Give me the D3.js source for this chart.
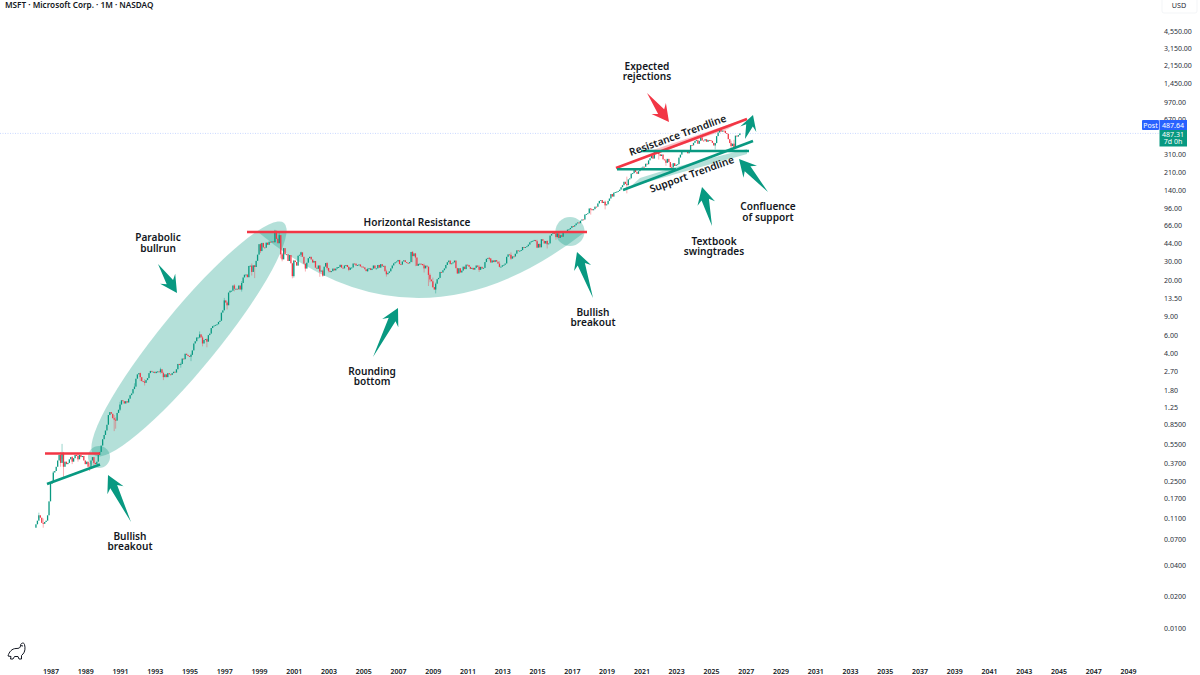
<!DOCTYPE html>
<html><head><meta charset="utf-8">
<script src="https://cdn.jsdelivr.net/npm/d3@7"></script>
<style>html,body{margin:0;padding:0;background:#fff;overflow:hidden}svg{display:block}text{font-family:"Noto Sans",sans-serif}</style>
</head><body><svg id="c" width="1200" height="675"></svg>
<script>
// Monthly closes, one row per year (first row starts March 1986)
const closes1986 = [.097,.105,.118,.112,.10,.098,.102,.105,.118,.16];
const closes1987 = [.235,.25,.30,.31,.34,.39,.44,.37,.46,.34,.38,.36];
const closes1988 = [.37,.40,.42,.38,.41,.44,.43,.40,.44,.42,.43,.39];
const closes1989 = [.36,.38,.34,.33,.39,.42,.37,.36,.38,.44,.47,.54];
const closes1990 = [.62,.68,.75,.85,1.05,1.12,1.08,.98,.95,.93,1.10,1.18];
const closes1991 = [1.32,1.45,1.42,1.35,1.42,1.38,1.50,1.62,1.68,1.85,1.95,2.32];
const closes1992 = [2.55,2.62,2.40,2.20,2.18,2.12,2.25,2.35,2.62,2.75,2.70,2.70];
const closes1993 = [2.62,2.70,2.72,2.68,2.85,2.62,2.40,2.55,2.40,2.62,2.55,2.52];
const closes1994 = [2.62,2.70,2.65,2.85,3.20,3.15,3.20,3.60,3.55,4.00,3.90,3.80];
const closes1995 = [3.75,3.90,4.30,5.00,5.25,5.70,5.70,6.10,5.70,5.00,5.40,5.50];
const closes1996 = [5.20,6.00,6.20,7.00,7.30,7.40,7.50,7.60,8.00,8.20,9.80,10.3];
const closes1997 = [12.8,12.2,11.5,15.2,15.8,15.8,17.7,16.5,16.5,16.3,17.7,16.2];
const closes1998 = [18.7,21.1,22.4,22.5,21.2,27.1,27.3,23.8,27.5,26.5,30.3,34.7];
const closes1999 = [43.6,37.5,44.8,40.6,40.3,45.1,43.0,46.0,45.3,46.3,45.6,58.4];
const closes2000 = [48.9,44.7,53.1,34.9,31.3,40.0,34.9,35.0,30.2,34.4,28.7,21.7];
const closes2001 = [30.5,29.5,27.3,33.9,34.6,36.5,33.1,28.5,25.6,29.1,32.1,33.1];
const closes2002 = [31.2,29.2,30.2,26.1,25.5,27.4,24.0,24.5,21.9,26.7,28.9,25.9];
const closes2003 = [24.4,23.7,24.2,25.6,24.6,25.6,26.4,26.5,27.8,26.1,25.7,27.4];
const closes2004 = [27.7,26.5,24.9,26.1,26.2,28.6,28.5,27.3,27.7,28.0,26.8,26.7];
const closes2005 = [26.3,25.2,24.2,25.3,25.8,24.8,25.6,27.4,25.7,25.7,27.7,26.1];
const closes2006 = [28.2,26.9,27.2,24.1,22.6,23.3,24.1,25.7,27.4,28.7,29.4,29.9];
const closes2007 = [30.9,28.2,27.9,29.9,30.7,29.5,29.0,28.7,29.5,36.8,33.6,35.6];
const closes2008 = [32.6,27.2,28.4,28.5,28.3,27.5,25.7,27.3,26.7,22.3,20.2,19.4];
const closes2009 = [17.1,16.2,18.4,20.3,20.9,23.8,23.5,24.7,25.7,27.7,29.4,30.5];
const closes2010 = [28.2,28.7,29.3,30.5,25.8,23.0,25.8,23.5,24.5,26.7,25.3,27.9];
const closes2011 = [27.7,26.6,25.4,26.0,25.0,26.0,27.4,26.6,24.9,26.6,25.6,26.0];
const closes2012 = [29.5,31.7,32.3,32.0,29.2,30.6,29.5,30.8,29.8,28.5,26.6,26.7];
const closes2013 = [27.5,27.8,28.6,33.1,34.9,34.5,31.8,33.4,33.3,35.4,38.1,37.4];
const closes2014 = [37.8,38.3,41.0,40.4,40.9,41.7,43.2,45.4,46.4,46.9,47.8,46.5];
const closes2015 = [40.4,43.9,40.7,48.6,46.9,44.2,46.7,43.5,44.3,52.6,54.4,55.5];
const closes2016 = [55.1,50.9,55.2,49.9,53.0,51.2,56.7,57.5,57.6,59.9,60.3,62.1];
const closes2017 = [64.7,64.0,65.9,68.5,70.0,68.9,72.7,74.8,74.5,83.2,84.2,85.5];
const closes2018 = [95.0,93.8,91.3,93.5,98.8,98.6,106,112,114,107,110,101.6];
const closes2019 = [104,112,118,130,123,134,136,137,139,143,151,157.7];
const closes2020 = [170,162,157.7,179,183,203,205,225,210,202,214,222];
const closes2021 = [231,236,235.8,252,249,271,284,301,282,331,330,336];
const closes2022 = [310,298,308,277,271,257,280,261,233,232,255,240];
const closes2023 = [247,249,288,307,328,340,335,328,316,338,378,376];
const closes2024 = [397,413,421,389,415,447,418,417,430,406,423,421];
const closes2025 = [415,397,375,395,460,497,533,507,518,517,492,483];
const closes2026 = [430,395,370,390,355,465,455,470,487.31];
const closeRows = [closes1986,closes1987,closes1988,closes1989,closes1990,closes1991,closes1992,closes1993,closes1994,closes1995,closes1996,closes1997,closes1998,closes1999,closes2000,closes2001,closes2002,closes2003,closes2004,closes2005,closes2006,closes2007,closes2008,closes2009,closes2010,closes2011,closes2012,closes2013,closes2014,closes2015,closes2016,closes2017,closes2018,closes2019,closes2020,closes2021,closes2022,closes2023,closes2024,closes2025,closes2026];

// Visible wick extremes as [year, month(1-12), high, low]
const wicks = [[1986,5,.125,.11],[1986,8,.11,.09],[1987,3,.31,.24],[1987,8,.47,.34],[1987,9,.56,.40],[1987,10,.47,.27],[1988,4,.43,.36],[1988,8,.45,.38],[1989,4,.37,.31],[1989,7,.39,.34],[1990,9,1.05,.74],[1990,10,1.0,.78],[1991,1,1.4,1.15],[1991,11,2.1,1.85],[1992,3,2.65,2.2],[1992,6,2.3,2.0],[1993,5,2.95,2.6],[1993,7,2.7,2.25],[1994,7,3.3,2.95],[1995,2,4.0,3.4],[1995,8,6.5,5.6],[1995,10,5.9,4.7],[1996,1,5.6,4.6],[1997,1,13.5,10.4],[1997,3,12.5,10.5],[1997,8,18.2,15.6],[1998,1,19.5,15.5],[1998,8,28.6,22],[1998,10,27.5,20.8],[1999,2,44.5,36],[1999,12,59.6,45],[2000,2,50,44],[2000,3,57,44],[2000,4,53,32],[2000,5,36,30],[2000,12,29,20.7],[2001,1,31,21],[2001,6,37,33],[2001,9,28,24],[2002,7,27.5,21.4],[2002,9,25,21.4],[2002,12,29.5,25],[2003,1,26,23.6],[2004,3,27,24.2],[2005,4,26,23.8],[2006,5,25,21.5],[2007,11,37.5,29.4],[2008,1,36,27],[2008,7,28.5,23.5],[2008,10,26.5,17.5],[2008,11,23,19],[2009,3,18.9,14.9],[2009,1,21,16.8],[2010,6,26,22.9],[2011,9,27.5,23.8],[2012,4,33,30.5],[2012,11,30,26.3],[2013,7,36.4,31],[2015,8,47.5,39.7],[2015,1,48,40],[2016,2,56,48],[2018,2,96,83],[2018,12,113,93],[2020,3,190,132],[2021,9,305,280],[2022,1,337,276],[2022,6,280,241],[2022,10,250,213],[2025,4,396,344],[2026,5,425,340],[2026,3,415,345]];

// Axis tick labels
const yearTicks = d3.range(1987,2050,2);
const priceTicks = [4550,3150,2150,1450,970,670,310,210,140,96,66,44,30,20,13.5,9,6,4,2.7,1.8,1.25,.85,.55,.37,.25,.17,.11,.07,.04,.02,.01];

const UP="#089981", DN="#f23645", INK="#131722", TEAL="#089981";
const svg=d3.select("#c");
const x=d3.scaleUtc().domain([Date.UTC(1987,0,1),Date.UTC(2049,0,1)]).range([50.5,1128]);
const y=d3.scaleLog().domain([.01,4550]).range([628.5,31]);

// build candles
const closes=closeRows.flat();
const candles=closes.map((c,i)=>{const d=new Date(Date.UTC(1986,2+i,1));return{d,c,o:i?closes[i-1]:.09}});
const wickMap=new Map(wicks.map(w=>[w[0]*100+w[1],w]));

// soft shapes
const soft=svg.append("g").attr("fill",TEAL).attr("fill-opacity",.3);
soft.append("ellipse").attr("cx",189).attr("cy",339).attr("rx",150).attr("ry",29).attr("transform","rotate(-50.7 189 339)");
soft.append("circle").attr("cx",99).attr("cy",457).attr("r",11);
soft.append("path").attr("d","M258,232 Q415,364 585,232 Z");
soft.append("circle").attr("cx",570).attr("cy",231.5).attr("r",14.5);
svg.append("path").attr("d","M630,187 L640,178 L672,168 L747,149 L747,154 L733,158 L690,170 Z").attr("fill",TEAL).attr("fill-opacity",.3);
svg.append("path").attr("d","M650,151 L745,119 L728,129 L658,153 Z").attr("fill",DN).attr("fill-opacity",.3);

// last price line
svg.append("line").attr("x1",0).attr("x2",1160).attr("y1",y(487.64)).attr("y2",y(487.64)).attr("stroke","#2962ff").attr("stroke-opacity",.35).attr("stroke-width",.7).attr("stroke-dasharray","1 1.5");

// candles
const cg=svg.append("g");
cg.selectAll("line").data(candles.filter(k=>wickMap.has(k.d.getUTCFullYear()*100+k.d.getUTCMonth()+1))).join("line")
 .attr("x1",k=>x(k.d)).attr("x2",k=>x(k.d))
 .attr("y1",k=>y(wickMap.get(k.d.getUTCFullYear()*100+k.d.getUTCMonth()+1)[2]))
 .attr("y2",k=>y(wickMap.get(k.d.getUTCFullYear()*100+k.d.getUTCMonth()+1)[3]))
 .attr("stroke",k=>k.c>=k.o?UP:DN).attr("stroke-opacity",.4).attr("stroke-width",1);
cg.selectAll("rect").data(candles).join("rect")
 .attr("x",k=>x(k.d)-.65).attr("width",1.3)
 .attr("y",k=>Math.min(y(k.o),y(k.c))).attr("height",k=>Math.max(.9,Math.abs(y(k.o)-y(k.c))))
 .attr("fill",k=>k.c>=k.o?UP:DN);

// trend lines
const seg=(a,b,c,d,col,w=2.6)=>svg.append("line").attr("x1",a).attr("y1",b).attr("x2",c).attr("y2",d).attr("stroke",col).attr("stroke-width",w);
seg(45,453.5,100,453.5,DN);
seg(47,484,100,464.5,UP);
seg(247,232,587,232,DN);
seg(616,168,747,119,DN);
seg(617,169.3,676,169.3,UP);
seg(641,151,749,151,UP);
seg(623,190,753,141,UP);

// block arrows: tail point -> tip
function arrow(tx,ty,hx,hy,col,hl=17,hw=9,nw=3.8){
  const dx=hx-tx,dy=hy-ty,L=Math.hypot(dx,dy),ux=dx/L,uy=dy/L,nx=-uy,ny=ux;
  const bx=hx-ux*hl,by=hy-uy*hl;
  const nbx=hx-ux*(hl-4),nby=hy-uy*(hl-4);
  const p=[[tx,ty],[nbx+nx*nw,nby+ny*nw],[bx+nx*hw,by+ny*hw],[hx,hy],[bx-nx*hw,by-ny*hw],[nbx-nx*nw,nby-ny*nw]];
  svg.append("path").attr("d","M"+p.map(q=>q.join(",")).join("L")+"Z").attr("fill",col);
}
arrow(131,522,108,475,UP);
arrow(158,264,177,293,UP);
arrow(373,357,398,308,UP);
arrow(593,298,577,252,UP);
arrow(647,93,669,122,DN);
arrow(745,139,753,115,UP,15,8.5,3.5);
arrow(712,226,702,187,UP);
arrow(768,192,739,159,UP);

// annotation text
function note(lines,cx,cy){lines.forEach((t,i)=>svg.append("text").attr("x",cx).attr("y",cy+i*10.6).attr("text-anchor","middle").attr("dominant-baseline","middle").attr("font-size",10.1).attr("font-weight",600).attr("fill",INK).text(t));}
note(["Expected","rejections"],647,67);
note(["Parabolic","bullrun"],158,238.5);
note(["Horizontal Resistance"],417,223);
note(["Rounding","bottom"],372,372);
note(["Bullish","breakout"],593,313);
note(["Bullish","breakout"],130,537);
note(["Confluence","of support"],768,207.5);
note(["Textbook","swingtrades"],714,242);
svg.append("text").attr("transform","translate(678,136) rotate(-20)").attr("text-anchor","middle").attr("dominant-baseline","middle").attr("font-size",10.2).attr("font-weight",600).attr("fill",INK).text("Resistance Trendline");
svg.append("text").attr("transform","translate(692,175) rotate(-20)").attr("text-anchor","middle").attr("dominant-baseline","middle").attr("font-size",10.2).attr("font-weight",600).attr("fill",INK).text("Support Trendline");

// header
svg.append("text").attr("x",5).attr("y",7.5).attr("font-size",8.2).attr("font-weight",600).attr("fill",INK).text("MSFT · Microsoft Corp. · 1M · NASDAQ");

// axes
const fmtP=v=>v>=1?d3.format(",.2f")(v):v.toFixed(4);
const yA=d3.axisRight(y).tickValues(priceTicks).tickFormat(fmtP).tickSize(0).tickPadding(0);
const yg=svg.append("g").attr("transform","translate(1164,0)").call(yA);
yg.select(".domain").remove();
yg.selectAll("text").attr("font-size",7).attr("fill","#2a2e39").style("font-family","'Noto Sans',sans-serif");
const xA=d3.axisBottom(x).tickValues(yearTicks.map(v=>new Date(Date.UTC(v,0,1)))).tickFormat(d3.utcFormat("%Y")).tickSize(0).tickPadding(0);
const xg=svg.append("g").attr("transform","translate(0,669)").call(xA);
xg.select(".domain").remove();
xg.selectAll("text").attr("font-size",7).attr("font-weight",600).attr("fill","#131722").style("font-family","'Noto Sans',sans-serif");

// USD box and price tags
svg.append("rect").attr("x",1162).attr("y",-3).attr("width",35).attr("height",16).attr("rx",2).attr("fill","#fff").attr("stroke","#eef0f3").attr("stroke-width",.7);
svg.append("text").attr("x",1179).attr("y",7.5).attr("text-anchor","middle").attr("font-size",7.2).attr("fill","#2a2e39").text("USD");
svg.append("rect").attr("x",1142).attr("y",120).attr("width",17).attr("height",10).attr("rx",1).attr("fill","#2962ff");
svg.append("rect").attr("x",1159.5).attr("y",120).attr("width",27.5).attr("height",10).attr("fill","#2962ff");
svg.append("rect").attr("x",1159.5).attr("y",130).attr("width",27.5).attr("height",16.5).attr("fill",UP);
const tag=(t,a,b)=>svg.append("text").attr("x",a).attr("y",b).attr("text-anchor","middle").attr("font-size",7).attr("fill","#fff").text(t);
tag("Post",1150.5,127.5);tag("487.64",1173,127.5);tag("487.31",1173,136.5);tag("7d 0h",1173,144);

// logo
svg.append("path").attr("d","M8,656 C9,652 12,648.5 16,648.5 C19,648.5 20.5,648 20.5,645.5 C20.5,643 24,642 24.5,644.5 C25.5,648 25,652 23,654 L21.5,655.5 L21.5,659 L19,659 L18,656.5 L14.5,656.5 L13,659 L10.5,659 L11,656.5 Z M20.5,645.5 L23,646").attr("fill","none").attr("stroke",INK).attr("stroke-width",1).attr("stroke-linejoin","round");
</script></body></html>
